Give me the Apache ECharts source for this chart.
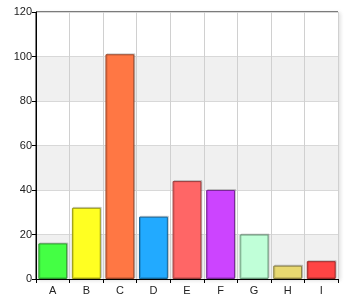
<!DOCTYPE html>
<html><head><meta charset="utf-8">
<script src="https://cdn.jsdelivr.net/npm/echarts@6/dist/echarts.min.js"></script>
<style>html,body{margin:0;padding:0;background:#fff}#c{width:350px;height:300px}</style>
</head><body><div id="c"></div>
<script>
var categories = ['A','B','C','D','E','F','G','H','I'];
var values = [16, 32, 101, 28, 44, 40, 20, 6, 8];
var barColors = ['#44ff44','#ffff22','#ff7744','#22aaff','#ff6666','#cc44ff','#c0ffd8','#e8d870','#ff4444'];
var borderColors = ['#2a9a2a','#9a9a10','#9a4628','#14669a','#9a3c3c','#7a2899','#6a9a7a','#8a7e40','#9a2828'];
var yTicks = [0,20,40,60,80,100,120];

var chart = echarts.init(document.getElementById('c'), null, {renderer:'canvas'});
chart.setOption({
  animation:false,
  grid:{left:36, right:12, top:12, bottom:21, show:true, borderColor:'#000', borderWidth:1,
        backgroundColor:'#fff', shadowColor:'rgba(0,0,0,0.12)', shadowBlur:4, shadowOffsetX:2, shadowOffsetY:1},
  xAxis:{type:'category', data:categories,
    axisLine:{lineStyle:{color:'#000', width:1}},
    axisTick:{show:true, alignWithLabel:false, length:4, lineStyle:{color:'#000'}},
    axisLabel:{color:'#222', fontFamily:'Liberation Sans, Arial, sans-serif', fontSize:11, margin:6},
    splitLine:{show:true, lineStyle:{color:'#d0d0d0'}}
  },
  yAxis:{type:'value', min:0, max:120, interval:20,
    axisLine:{show:true, lineStyle:{color:'#000'}},
    axisTick:{show:true, length:4, lineStyle:{color:'#000'}},
    axisLabel:{color:'#222', fontFamily:'Liberation Sans, Arial, sans-serif', fontSize:11, margin:4},
    splitLine:{show:true, lineStyle:{color:'#d8d8d8'}},
    splitArea:{show:true, areaStyle:{color:['#f0f0f0','#ffffff']}}
  },
  series:[{type:'bar', barCategoryGap:'14%',
    data: values.map(function(v,i){return {value:v, itemStyle:{color:barColors[i], borderColor:borderColors[i], borderWidth:1,
      shadowColor:'rgba(0,0,0,0.15)', shadowOffsetX:1, shadowOffsetY:-1}};})
  }]
});
</script></body></html>
